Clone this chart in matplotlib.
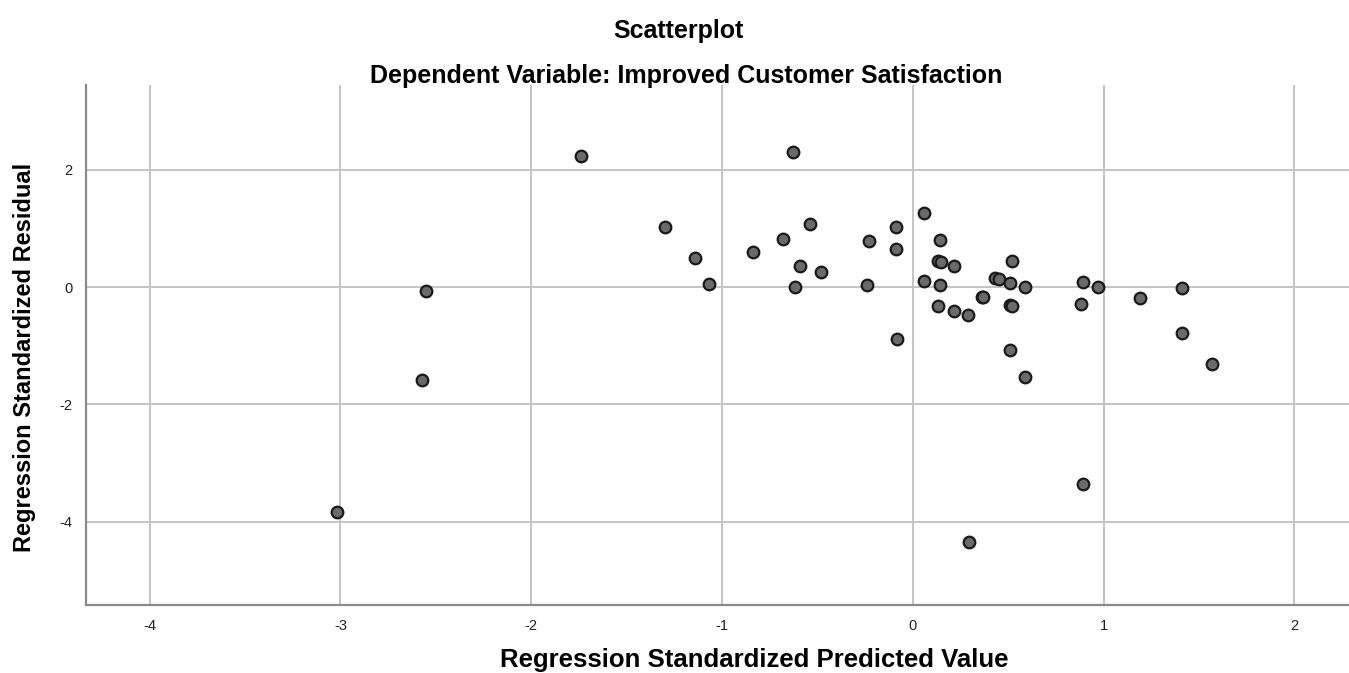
import matplotlib
matplotlib.use("Agg")
import matplotlib.pyplot as plt

plt.rcParams['font.family'] = ['Liberation Sans', 'DejaVu Sans']

# values (predicted, residual)
pred = [-3.02, -2.57, -2.55, -1.74, -1.30, -1.14, -1.07, -0.84, -0.68, -0.63,
        -0.62, -0.59, -0.54, -0.48, -0.24, -0.23, -0.09, -0.09, -0.085, 0.06,
        0.06, 0.13, 0.15, 0.14, 0.14, 0.13, 0.215, 0.215, 0.29, 0.295,
        0.36, 0.37, 0.43, 0.45, 0.51, 0.52, 0.51, 0.52, 0.51, 0.59,
        0.59, 0.88, 0.89, 0.89, 0.97, 1.19, 1.41, 1.41, 1.57]
resid = [-3.84, -1.59, -0.06, 2.23, 1.03, 0.50, 0.05, 0.60, 0.82, 2.31,
         0.00, 0.36, 1.07, 0.25, 0.03, 0.78, 1.03, 0.65, -0.89, 1.27,
         0.11, 0.44, 0.43, 0.81, 0.04, -0.33, 0.36, -0.41, -0.48, -4.35,
         -0.17, -0.17, 0.15, 0.14, 0.07, 0.45, -0.31, -0.32, -1.08, 0.00,
         -1.54, -0.28, 0.09, -3.36, 0.01, -0.19, -0.02, -0.79, -1.31]

xticks = [-4, -3, -2, -1, 0, 1, 2]
yticks = [-4, -2, 0, 2]

fig = plt.figure(figsize=(13.49, 6.73), dpi=100)
ax = fig.add_axes([0.0638, 0.101, 0.9362, 0.773])

ax.scatter(pred, resid, s=70, facecolor='#6a6a6a', edgecolor='#1a1a1a',
           linewidth=1.6, zorder=3)

ax.set_xlim(-4.333, 2.286)
ax.set_ylim(-5.42, 3.45)
ax.set_xticks(xticks)
ax.set_yticks(yticks)
ax.set_xticklabels([str(t) for t in xticks])
ax.set_yticklabels([str(t) for t in yticks])
ax.grid(True, color='#c4c4c4', linewidth=1.4)
ax.set_axisbelow(True)
ax.tick_params(length=0, labelsize=10.5, colors='#222222', pad=10)

for s in ['top', 'right']:
    ax.spines[s].set_visible(False)
for s in ['left', 'bottom']:
    ax.spines[s].set_color('#8a8a8a')
    ax.spines[s].set_linewidth(1.6)

ax.set_xlabel('Regression Standardized Predicted Value', fontsize=18.5,
              fontweight='bold', va='center')
ax.xaxis.set_label_coords(0.529, -0.105)
ax.set_ylabel('Regression Standardized Residual', fontsize=17,
              fontweight='bold', va='center')
ax.yaxis.set_label_coords(-0.049, 0.475)

fig.text(0.503, 0.954, 'Scatterplot', ha='center', va='center',
         fontsize=18, fontweight='bold')
fig.text(0.509, 0.887, 'Dependent Variable: Improved Customer Satisfaction',
         ha='center', va='center', fontsize=18, fontweight='bold')

fig.savefig('out.png', dpi=100)
